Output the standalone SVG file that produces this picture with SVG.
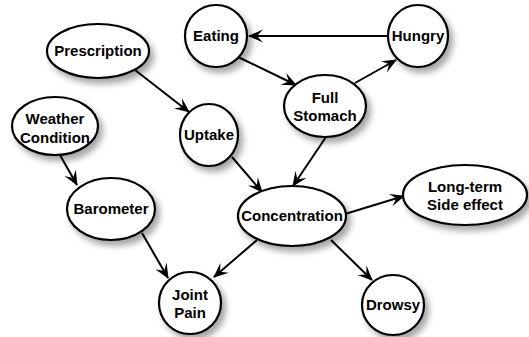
<svg xmlns="http://www.w3.org/2000/svg" width="529" height="337" viewBox="0 0 529 337">
<defs>
<filter id="sh" x="-30%" y="-30%" width="170%" height="170%">
<feDropShadow dx="4" dy="5" stdDeviation="3" flood-color="#000" flood-opacity="0.35"/>
</filter>
<marker id="ar" markerUnits="userSpaceOnUse" markerWidth="16" markerHeight="14" refX="14" refY="6.5" orient="auto">
<path d="M0,0 L15,6.5 L0,13 L6,6.5 z" fill="#000"/>
</marker>
<style>
.n ellipse{fill:#fff;stroke:#000;stroke-width:2.2;filter:url(#sh)}
.n text{font-family:"Liberation Sans",Arial,sans-serif;font-weight:bold;font-size:15px;text-anchor:middle;fill:#000}
.e line{stroke:#000;stroke-width:2;marker-end:url(#ar)}
</style>
</defs>
<rect width="529" height="337" fill="#fff"/>
<g id="connectors" class="e">
<line x1="388" y1="36" x2="249" y2="36"/>
<line x1="238" y1="57" x2="296" y2="85"/>
<line x1="355" y1="83" x2="396" y2="60"/>
<line x1="135" y1="70" x2="189" y2="112"/>
<line x1="232" y1="157" x2="262" y2="192"/>
<line x1="326" y1="137" x2="293" y2="186"/>
<line x1="60" y1="155" x2="77" y2="185"/>
<line x1="142" y1="233" x2="168" y2="278"/>
<line x1="257" y1="240" x2="214" y2="277"/>
<line x1="345" y1="214" x2="404" y2="196"/>
<line x1="331" y1="240" x2="372" y2="280"/>
</g>
<g id="eating" class="n"><ellipse cx="216" cy="36" rx="31" ry="31"/><text x="216" y="41">Eating</text></g>
<g id="hungry" class="n"><ellipse cx="418" cy="36" rx="30" ry="31"/><text x="418" y="41">Hungry</text></g>
<g id="prescription" class="n"><ellipse cx="98" cy="51" rx="51" ry="27"/><text x="98" y="56">Prescription</text></g>
<g id="fullstomach" class="n"><ellipse cx="325" cy="106" rx="41" ry="31"/><text x="325" y="103">Full</text><text x="325" y="121">Stomach</text></g>
<g id="weather" class="n"><ellipse cx="55" cy="126" rx="43" ry="29"/><text x="55" y="124">Weather</text><text x="55" y="143">Condition</text></g>
<g id="uptake" class="n"><ellipse cx="209" cy="135" rx="29" ry="31"/><text x="209" y="140">Uptake</text></g>
<g id="barometer" class="n"><ellipse cx="111" cy="209" rx="44" ry="31"/><text x="111" y="214">Barometer</text></g>
<g id="concentration" class="n"><ellipse cx="292" cy="216" rx="54" ry="30"/><text x="292" y="221">Concentration</text></g>
<g id="longterm" class="n"><ellipse cx="465" cy="195" rx="62" ry="30"/><text x="465" y="192">Long-term</text><text x="465" y="210">Side effect</text></g>
<g id="jointpain" class="n"><ellipse cx="190" cy="303" rx="31" ry="31"/><text x="190" y="300">Joint</text><text x="190" y="318">Pain</text></g>
<g id="drowsy" class="n"><ellipse cx="393" cy="305" rx="31" ry="30"/><text x="393" y="310">Drowsy</text></g>
</svg>
